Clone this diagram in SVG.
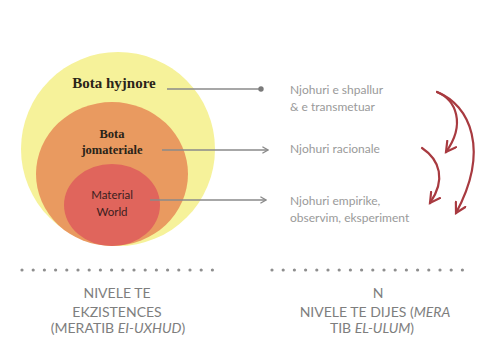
<svg xmlns="http://www.w3.org/2000/svg" width="482" height="338" viewBox="0 0 482 338">
<defs>
<style>
.lbl{font-family:"Liberation Serif",serif;font-weight:bold;fill:#2a2418;text-anchor:middle}
.mw{font-family:Lato,"Open Sans",sans-serif;font-size:11.5px;fill:#3a2020;text-anchor:middle}
.rt{font-family:Lato,"Open Sans",sans-serif;font-size:12px;fill:#9a9a9a}
.bt{font-family:Lato,"Open Sans",sans-serif;font-size:14px;fill:#7e7e7e;text-anchor:middle}
.it{font-style:italic}
.con{stroke:#8a8a8a;stroke-width:1.6;fill:none}
.red{stroke:#a83a40;stroke-width:2.2;fill:none;stroke-linecap:round}
.dots{stroke:#8e8e8e;stroke-width:3.2;stroke-linecap:round;stroke-dasharray:0 11.2}
</style>
<marker id="ah" viewBox="0 0 10 10" refX="9" refY="5" markerWidth="8" markerHeight="8" orient="auto" markerUnits="userSpaceOnUse">
<path d="M2,1 L9,5 L2,9" fill="none" stroke="#8a8a8a" stroke-width="1.6"/>
</marker>
<marker id="dot" viewBox="0 0 10 10" refX="5" refY="5" markerWidth="6" markerHeight="6" orient="auto" markerUnits="userSpaceOnUse">
<circle cx="5" cy="5" r="4.5" fill="#7a7a7a"/>
</marker>
<marker id="rah" viewBox="0 0 12 12" refX="10" refY="6" markerWidth="13" markerHeight="13" orient="auto" markerUnits="userSpaceOnUse">
<path d="M1,1 L10,6 L1,11" fill="none" stroke="#a83a40" stroke-width="2" stroke-linecap="round"/>
</marker>
</defs>
<rect width="482" height="338" fill="#ffffff"/>

<g id="bota-hyjnore">
<ellipse cx="118" cy="149" rx="97" ry="97" fill="#f6f29a"/>
<text class="lbl" x="114" y="88" font-size="15">Bota hyjnore</text>
</g>
<g id="bota-jomateriale">
<ellipse cx="112" cy="174" rx="76" ry="72" fill="#e99a60"/>
<text class="lbl" x="112" y="138" font-size="12.5">Bota</text>
<text class="lbl" x="112" y="154" font-size="12.5">jomateriale</text>
</g>
<g id="material-world">
<ellipse cx="112" cy="205" rx="48" ry="41" fill="#e0655c"/>
<text class="mw" x="112" y="199">Material</text>
<text class="mw" x="112" y="216">World</text>
</g>

<g id="njohuri-shpallur">
<text class="rt" x="290" y="94">Njohuri e shpallur</text>
<text class="rt" x="290" y="111">&amp; e transmetuar</text>
</g>
<g id="njohuri-racionale">
<text class="rt" x="290" y="153">Njohuri racionale</text>
</g>
<g id="njohuri-empirike">
<text class="rt" x="290" y="205">Njohuri empirike,</text>
<text class="rt" x="290" y="222">observim, eksperiment</text>
</g>

<g id="connectors">
<line class="con" x1="167" y1="89" x2="261" y2="89" marker-end="url(#dot)"/>
<line class="con" x1="162" y1="150" x2="268" y2="150" marker-end="url(#ah)"/>
<line class="con" x1="150" y1="200" x2="266" y2="200" marker-end="url(#ah)"/>
<path class="red" d="M437,92 C456,100 466,124 446,152" marker-end="url(#rah)"/>
<path class="red" d="M437,92 C470,105 490,150 456,213" marker-end="url(#rah)"/>
<path class="red" d="M422,148 C440,160 446,180 430,203" marker-end="url(#rah)"/>
</g>

<g id="nivele-ekzistences">
<line class="dots" x1="22" y1="270" x2="214" y2="270"/>
<text class="bt" x="117" y="298">NIVELE TE</text>
<text class="bt" x="117" y="317">EKZISTENCES</text>
<text class="bt" x="118" y="333">(MERATIB <tspan class="it">EI-UXHUD</tspan>)</text>
</g>
<g id="nivele-dijes">
<line class="dots" x1="272" y1="270" x2="464" y2="270"/>
<text class="bt" x="378" y="298">N</text>
<text class="bt" x="375" y="317">NIVELE TE DIJES (<tspan class="it">MERA</tspan></text>
<text class="bt" x="372" y="333">TIB <tspan class="it">EL-ULUM</tspan>)</text>
</g>
</svg>
